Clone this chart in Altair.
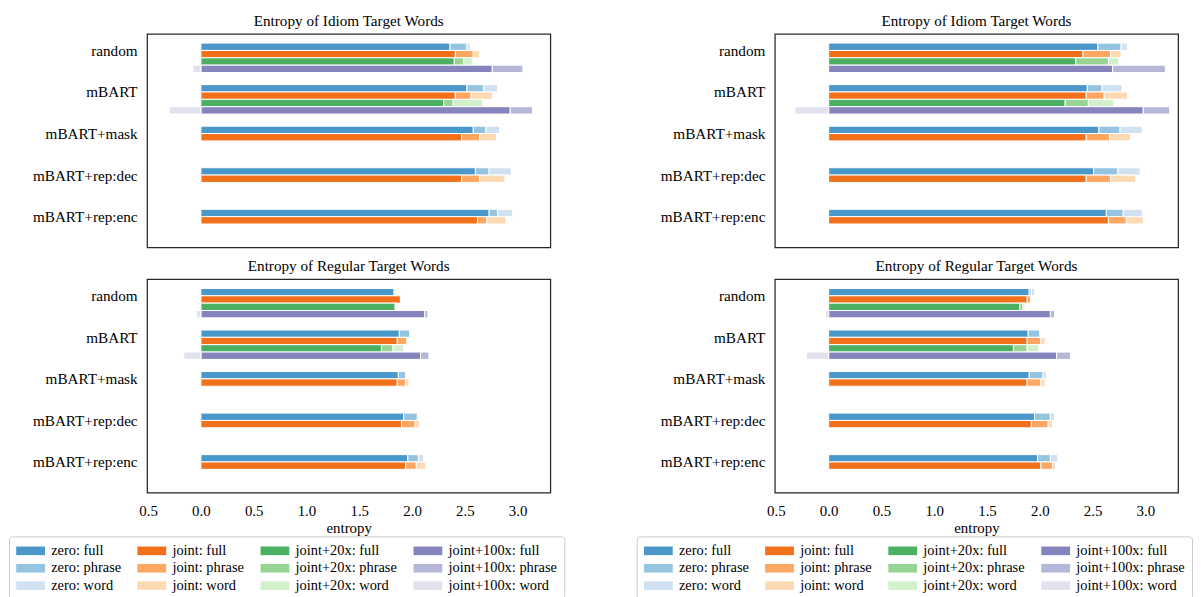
import altair as alt
import pandas as pd

CATEGORIES = ["random", "mBART", "mBART+mask", "mBART+rep:dec", "mBART+rep:enc"]
SERIES = ["zero", "joint", "joint+20x", "joint+100x"]
PARTS = ["full", "phrase", "word"]

# ---- Idiom target words, left column ----
IDL_ZERO_FULL = [2.36, 2.52, 2.58, 2.60, 2.73]
IDL_ZERO_PHRASE = [0.16, 0.16, 0.12, 0.13, 0.08]
IDL_ZERO_WORD = [0.03, 0.13, 0.13, 0.21, 0.14]
IDL_JOINT_FULL = [2.41, 2.41, 2.47, 2.47, 2.62]
IDL_JOINT_PHRASE = [0.17, 0.15, 0.17, 0.17, 0.09]
IDL_JOINT_WORD = [0.06, 0.20, 0.16, 0.24, 0.18]
IDL_J20_FULL = [2.40, 2.30, None, None, None]
IDL_J20_PHRASE = [0.09, 0.09, None, None, None]
IDL_J20_WORD = [0.08, 0.28, None, None, None]
IDL_J100_FULL = [2.76, 2.93, None, None, None]
IDL_J100_PHRASE = [0.29, 0.21, None, None, None]
IDL_J100_WORD = [-0.075, -0.30, None, None, None]

# ---- Idiom target words, right column ----
IDR_ZERO_FULL = [2.55, 2.45, 2.56, 2.51, 2.63]
IDR_ZERO_PHRASE = [0.22, 0.14, 0.20, 0.23, 0.16]
IDR_ZERO_WORD = [0.06, 0.19, 0.21, 0.21, 0.18]
IDR_JOINT_FULL = [2.41, 2.44, 2.44, 2.44, 2.65]
IDR_JOINT_PHRASE = [0.26, 0.17, 0.22, 0.23, 0.17]
IDR_JOINT_WORD = [0.10, 0.22, 0.20, 0.24, 0.16]
IDR_J20_FULL = [2.34, 2.24, None, None, None]
IDR_J20_PHRASE = [0.31, 0.22, None, None, None]
IDR_J20_WORD = [0.10, 0.24, None, None, None]
IDR_J100_FULL = [2.69, 2.98, None, None, None]
IDR_J100_PHRASE = [0.50, 0.25, None, None, None]
IDR_J100_WORD = [0.01, -0.32, None, None, None]

# ---- Regular target words, left column ----
RGL_ZERO_FULL = [1.83, 1.88, 1.87, 1.92, 1.96]
RGL_ZERO_PHRASE = [0.01, 0.10, 0.07, 0.13, 0.10]
RGL_ZERO_WORD = [0.0, 0.005, 0.01, 0.01, 0.05]
RGL_JOINT_FULL = [1.89, 1.86, 1.86, 1.90, 1.94]
RGL_JOINT_PHRASE = [0.005, 0.09, 0.08, 0.13, 0.10]
RGL_JOINT_WORD = [0.0, 0.0, 0.03, 0.04, 0.09]
RGL_J20_FULL = [1.84, 1.71, None, None, None]
RGL_J20_PHRASE = [0.005, 0.11, None, None, None]
RGL_J20_WORD = [0.0, 0.10, None, None, None]
RGL_J100_FULL = [2.12, 2.08, None, None, None]
RGL_J100_PHRASE = [0.03, 0.08, None, None, None]
RGL_J100_WORD = [-0.044, -0.163, None, None, None]

# ---- Regular target words, right column ----
RGR_ZERO_FULL = [1.90, 1.89, 1.90, 1.95, 1.98]
RGR_ZERO_PHRASE = [0.02, 0.11, 0.13, 0.15, 0.12]
RGR_ZERO_WORD = [0.03, 0.0, 0.03, 0.04, 0.07]
RGR_JOINT_FULL = [1.88, 1.88, 1.88, 1.92, 2.01]
RGR_JOINT_PHRASE = [0.03, 0.13, 0.13, 0.16, 0.11]
RGR_JOINT_WORD = [0.0, 0.04, 0.04, 0.04, 0.03]
RGR_J20_FULL = [1.81, 1.75, None, None, None]
RGR_J20_PHRASE = [0.03, 0.13, None, None, None]
RGR_J20_WORD = [0.02, 0.11, None, None, None]
RGR_J100_FULL = [2.10, 2.16, None, None, None]
RGR_J100_PHRASE = [0.04, 0.13, None, None, None]
RGR_J100_WORD = [-0.03, -0.21, None, None, None]

PANELS = {
    "IDL": [[IDL_ZERO_FULL, IDL_ZERO_PHRASE, IDL_ZERO_WORD],
            [IDL_JOINT_FULL, IDL_JOINT_PHRASE, IDL_JOINT_WORD],
            [IDL_J20_FULL, IDL_J20_PHRASE, IDL_J20_WORD],
            [IDL_J100_FULL, IDL_J100_PHRASE, IDL_J100_WORD]],
    "IDR": [[IDR_ZERO_FULL, IDR_ZERO_PHRASE, IDR_ZERO_WORD],
            [IDR_JOINT_FULL, IDR_JOINT_PHRASE, IDR_JOINT_WORD],
            [IDR_J20_FULL, IDR_J20_PHRASE, IDR_J20_WORD],
            [IDR_J100_FULL, IDR_J100_PHRASE, IDR_J100_WORD]],
    "RGL": [[RGL_ZERO_FULL, RGL_ZERO_PHRASE, RGL_ZERO_WORD],
            [RGL_JOINT_FULL, RGL_JOINT_PHRASE, RGL_JOINT_WORD],
            [RGL_J20_FULL, RGL_J20_PHRASE, RGL_J20_WORD],
            [RGL_J100_FULL, RGL_J100_PHRASE, RGL_J100_WORD]],
    "RGR": [[RGR_ZERO_FULL, RGR_ZERO_PHRASE, RGR_ZERO_WORD],
            [RGR_JOINT_FULL, RGR_JOINT_PHRASE, RGR_JOINT_WORD],
            [RGR_J20_FULL, RGR_J20_PHRASE, RGR_J20_WORD],
            [RGR_J100_FULL, RGR_J100_PHRASE, RGR_J100_WORD]],
}

# matplotlib Blues/Oranges/Greens/Purples at 0.6 / 0.4 / 0.2
COLORS = {
    "zero": ["#4a98c9", "#94c4df", "#d0e1f2"],
    "joint": ["#f3701b", "#fda762", "#fdd9b4"],
    "joint+20x": ["#4bb062", "#98d594", "#d3f0cd"],
    "joint+100x": ["#8684bd", "#b6b6d8", "#e2e2ef"],
}

rows = []
for panel, series_lists in PANELS.items():
    for si, parts in enumerate(series_lists):
        for pi, vals in enumerate(parts):
            for ci, v in enumerate(vals):
                if v is None or v == 0:
                    continue
                rows.append({"panel": panel, "cat": ci, "series": si, "part": pi,
                             "value": v, "key": f"{SERIES[si]}: {PARTS[pi]}"})
df = pd.DataFrame(rows)

# legend order: column-major grid of 4 columns (series) x 3 rows (parts)
key_domain = [f"{s}: {p}" for s in SERIES for p in PARTS]
key_range = [COLORS[s][PARTS.index(p)] for s in SERIES for p in PARTS]

FONT = "Liberation Serif"
HALF = 0.0885
STEP = 0.177
cat_expr = "[" + ",".join(f"'{c}'" for c in CATEGORIES) + "][datum.value]"


def panel(pid, title, show_x):
    xaxis = alt.Axis(values=[-0.5, 0, 0.5, 1, 1.5, 2, 2.5, 3],
                     labelExpr="format(abs(datum.value), '.1f')",
                     title="entropy", ticks=False, domain=False, grid=False,
                     labelPadding=11, titlePadding=2) if show_x else None
    return (
        alt.Chart(df)
        .transform_filter(alt.datum.panel == pid)
        .transform_stack(stack="value", groupby=["cat", "series"],
                         sort=[alt.SortField("part", order="ascending")],
                         as_=["x0", "x1"], offset="zero")
        .transform_calculate(
            yc=f"datum.cat + (datum.series - 0.5) * {STEP}",
        )
        .transform_calculate(y0=f"datum.yc - {HALF}", y1=f"datum.yc + {HALF}")
        .mark_rect(stroke="white", strokeWidth=1)
        .encode(
            x=alt.X("x0:Q", scale=alt.Scale(domain=[-0.51, 3.31], nice=False, zero=False),
                    axis=xaxis),
            x2="x1:Q",
            y=alt.Y("y0:Q", scale=alt.Scale(domain=[-0.4, 4.74], nice=False, zero=False,
                                            reverse=True),
                    axis=alt.Axis(values=[0, 1, 2, 3, 4], labelExpr=cat_expr, title=None,
                                  ticks=False, domain=False, grid=False, labelPadding=10,
                                  labelFontSize=15.3)),
            y2="y1:Q",
            color=alt.Color("key:N", scale=alt.Scale(domain=key_domain, range=key_range),
                            legend=alt.Legend(
                                orient="none", legendX=-139, legendY=506,
                                columns=4, title=None,
                                symbolType="M-1,-0.6H3V0.6H-1Z", symbolSize=210,
                                symbolStrokeWidth=0, symbolOpacity=1,
                                labelFont=FONT, labelFontSize=14.5, labelColor="black",
                                labelOffset=20.5, columnPadding=16, rowPadding=2.5,
                                padding=7, strokeColor="#cccccc", cornerRadius=3,
                                fillColor="white")),
        )
        .properties(width=406, height=215, title=title)
    )


left = alt.vconcat(panel("IDL", "Entropy of Idiom Target Words", False),
                   panel("RGL", "Entropy of Regular Target Words", True), spacing=10)
right = alt.vconcat(panel("IDR", "Entropy of Idiom Target Words", False),
                    panel("RGR", "Entropy of Regular Target Words", True), spacing=10)

chart = (
    alt.hconcat(left, right, spacing=71)
    .resolve_scale(color="independent")
    .properties(padding={"left": 0, "top": 3, "right": 0, "bottom": 0})
    .configure(font=FONT)
    .configure_view(stroke="#262626", strokeWidth=1.25)
    .configure_axis(labelFont=FONT, titleFont=FONT, labelFontSize=15, titleFontSize=15,
                    labelColor="black", titleColor="black", titleFontWeight="normal")
    .configure_legend(labelFont=FONT, labelFontSize=14.5)
    .configure_title(font=FONT, fontSize=15.3, fontWeight="normal", color="black", offset=5)
)

chart.save("out.html", embed_options={"renderer": "svg", "actions": False})
